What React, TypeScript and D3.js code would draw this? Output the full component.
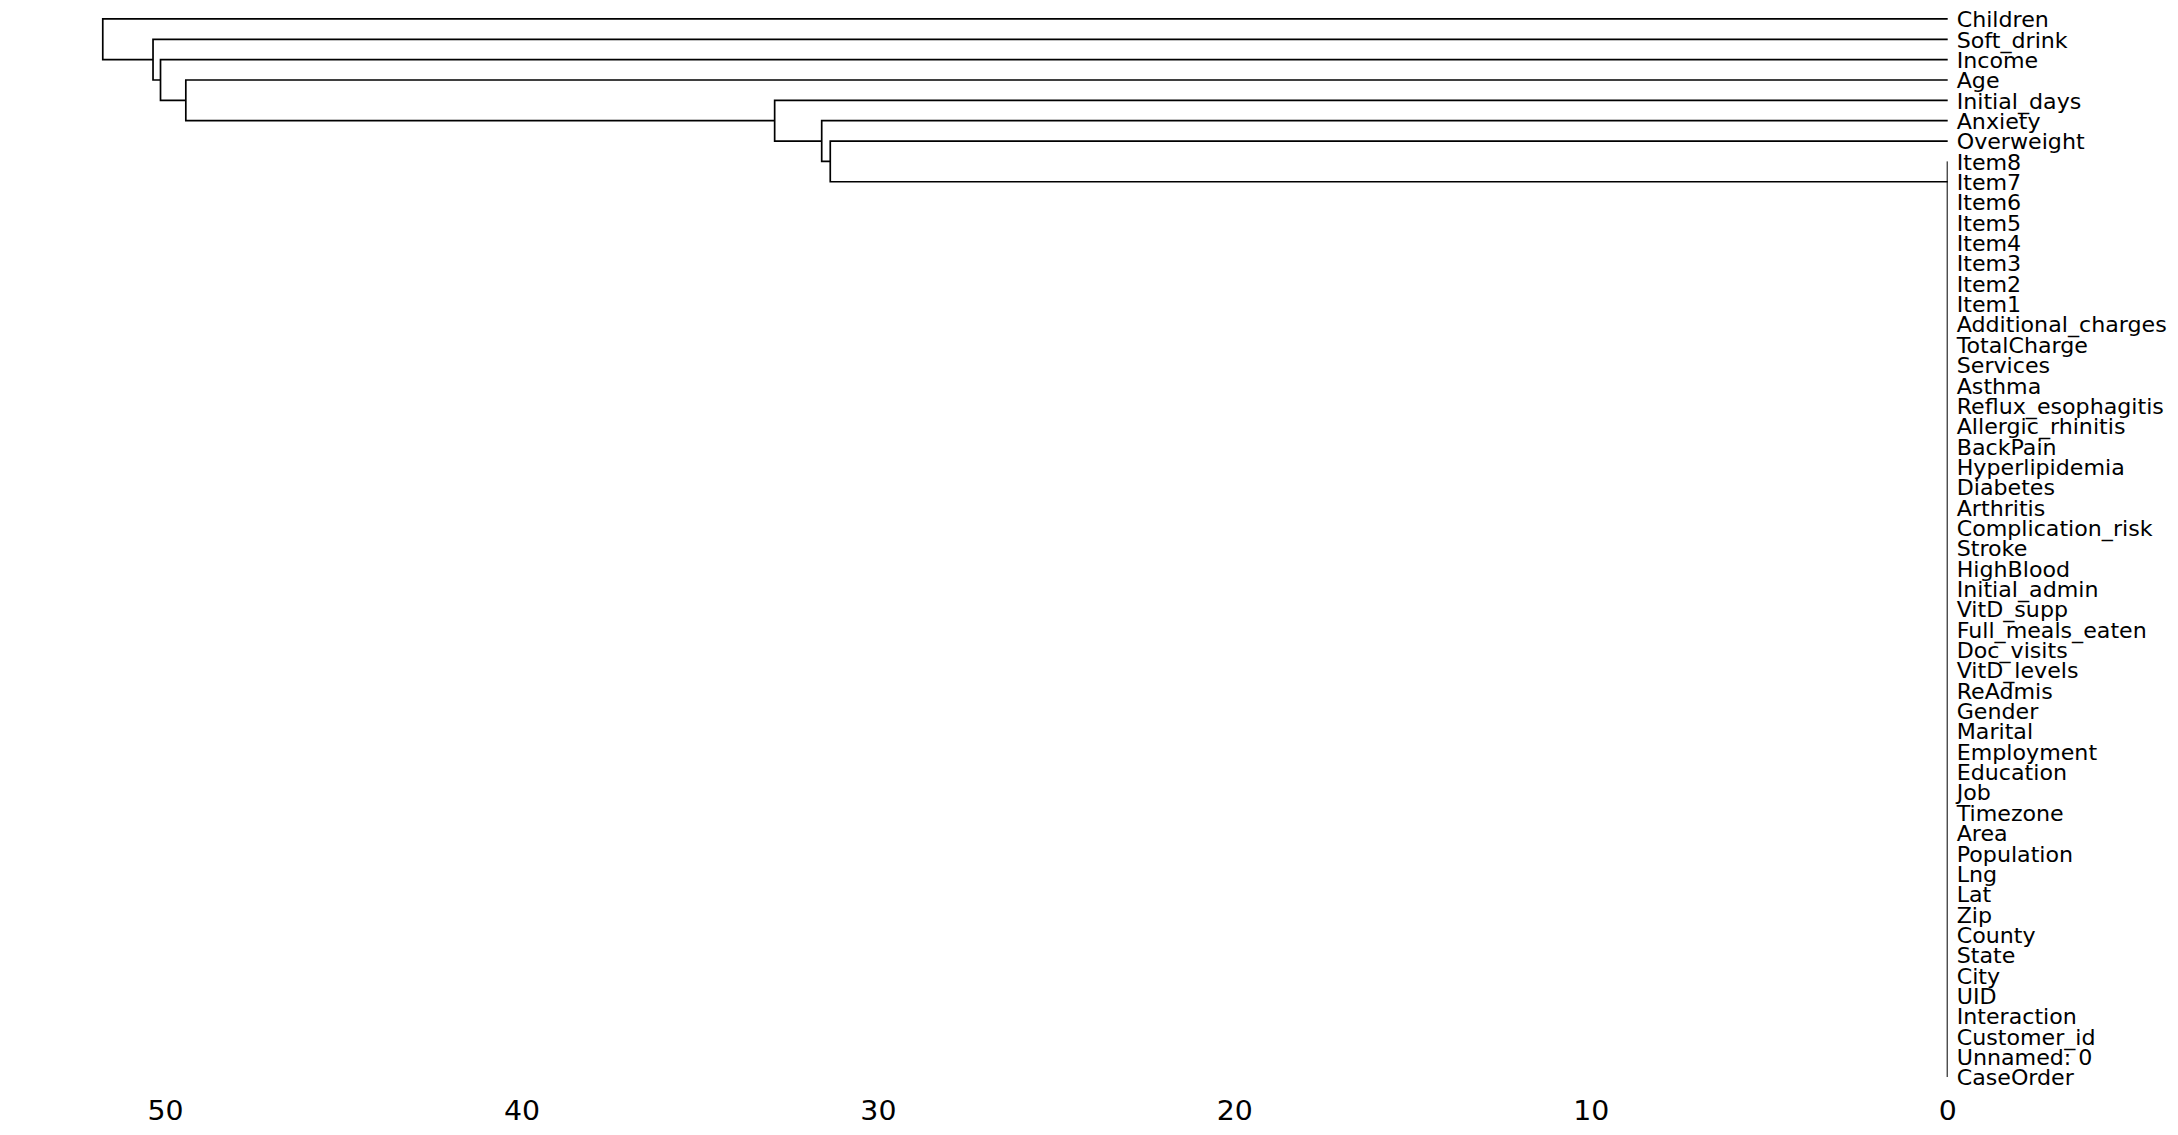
import React from 'react';
import { scaleLinear } from 'd3';

// leaf order, top to bottom as drawn
const leaves = [
    'Children', 'Soft_drink', 'Income', 'Age', 'Initial_days', 'Anxiety', 'Overweight',
    'Item8', 'Item7', 'Item6', 'Item5', 'Item4', 'Item3', 'Item2', 'Item1',
    'Additional_charges', 'TotalCharge', 'Services', 'Asthma', 'Reflux_esophagitis',
    'Allergic_rhinitis', 'BackPain', 'Hyperlipidemia', 'Diabetes', 'Arthritis',
    'Complication_risk', 'Stroke', 'HighBlood', 'Initial_admin', 'VitD_supp',
    'Full_meals_eaten', 'Doc_visits', 'VitD_levels', 'ReAdmis', 'Gender', 'Marital',
    'Employment', 'Education', 'Job', 'Timezone', 'Area', 'Population', 'Lng', 'Lat',
    'Zip', 'County', 'State', 'City', 'UID', 'Interaction', 'Customer_id', 'Unnamed: 0',
    'CaseOrder',
];

// leaves that join the tree one by one, with the linkage distance of each join
const chainLeaves = ['Children', 'Soft_drink', 'Income', 'Age', 'Initial_days', 'Anxiety', 'Overweight'];
const chainHeights = [51.76, 50.35, 50.14, 49.43, 32.91, 31.59, 31.35];

// everything else merges at distance 0; this is where that cluster hooks in
const zeroClusterFirst = 'Item8';
const zeroClusterLast = 'CaseOrder';
const zeroClusterAnchor = 'Item7';

const xTickValues = [0, 10, 20, 30, 40, 50];

const W = 2178;
const H = 1135;
const FONT = '"DejaVu Sans", Verdana, sans-serif';
const SX = 1.055; // text in the source looks a bit wide

const App = () => {
    const n = leaves.length;
    const maxD = Math.max(...chainHeights);

    // scipy style coords: leaves at 5, 15, 25 ... from the bottom
    const y = scaleLinear().domain([0, 10 * n]).range([1087.2, 8.8]);
    const x = scaleLinear().domain([maxD * 1.05, 0]).range([1947.7 - maxD * 1.05 * 35.644, 1947.7]);

    const leafPos = (name) => {
        const i = leaves.indexOf(name);
        return 5 + 10 * (n - 1 - i);
    };

    // walk the chain from the bottom up, building U shaped links
    const links = [];
    let child = { pos: leafPos(zeroClusterAnchor), h: 0 };
    for (let k = chainLeaves.length - 1; k >= 0; k--) {
        const lp = leafPos(chainLeaves[k]);
        const h = chainHeights[k];
        links.push([[0, lp], [h, lp], [h, child.pos], [child.h, child.pos]]);
        child = { pos: (lp + child.pos) / 2, h };
    }

    const linePath = (pts) => pts.map((p, i) => `${i ? 'L' : 'M'}${x(p[0])},${y(p[1])}`).join('');

    return (
        <svg width={W} height={H} style={{ position: 'absolute', left: 0, top: 0, display: 'block' }}>
            <rect width={W} height={H} fill="#fff" />
            <g fill="none" stroke="#000" strokeWidth={1.7} strokeLinejoin="miter">
                {links.map((pts, i) => (
                    <path key={i} d={linePath(pts)} />
                ))}
            </g>
            <line
                x1={x(0) - 0.5} x2={x(0) - 0.5}
                y1={y(leafPos(zeroClusterFirst))} y2={y(leafPos(zeroClusterLast))}
                stroke="#000" strokeWidth={1}
            />
            <g fontFamily={FONT} fontSize={21} fill="#000">
                {leaves.map((name) => (
                    <text
                        key={name}
                        transform={`translate(${x(0) + 9},${y(leafPos(name)) + 8.3}) scale(${SX},1)`}
                    >
                        {name}
                    </text>
                ))}
            </g>
            <g fontFamily={FONT} fontSize={26.5} fill="#000" textAnchor="middle">
                {xTickValues.map((t) => (
                    <text key={t} transform={`translate(${x(t)},1119.5) scale(1.07,1)`}>
                        {t}
                    </text>
                ))}
            </g>
        </svg>
    );
};

export default App;
